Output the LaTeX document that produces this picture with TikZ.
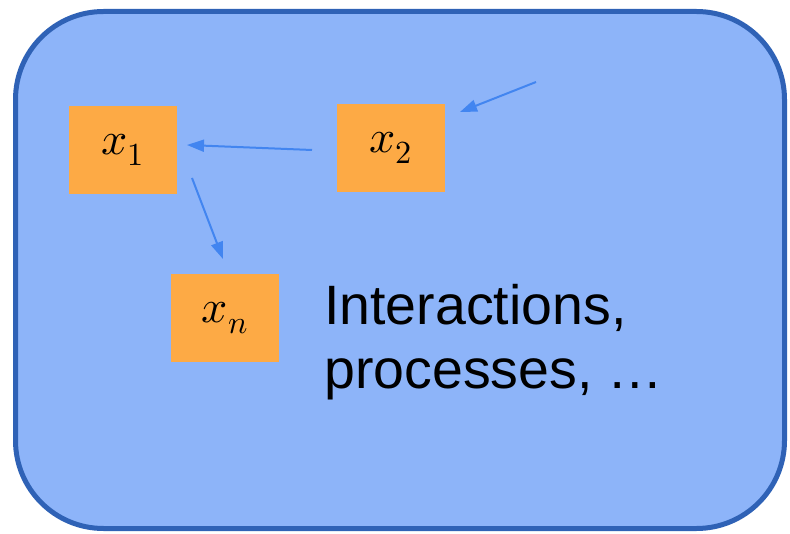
\documentclass[tikz,border=0pt]{standalone}
\usepackage{fontspec}
\usepackage{unicode-math}
\setmainfont{Liberation Sans}
\usetikzlibrary{arrows.meta}
\definecolor{panelfill}{HTML}{8DB4F9}
\definecolor{panelline}{HTML}{2F62B6}
\definecolor{varfill}{HTML}{FDAA45}
\definecolor{linkcol}{HTML}{4285F0}
\tikzset{
  panel/.style={draw=panelline, line width=5pt, fill=panelfill, rounded corners=88pt},
  varbox/.style={fill=varfill, minimum width=108pt, minimum height=88pt, inner sep=0pt,
    font=\fontsize{46}{46}\selectfont},
  link/.style={draw=linkcol, line width=2pt, -{Triangle[length=17pt,width=12pt]}},
  note/.style={align=left, anchor=north west, inner sep=0pt,
    font=\fontsize{55.5}{64}\selectfont}
}
\begin{document}
\begin{tikzpicture}[x=1pt,y=-1pt]
\useasboundingbox (0,0) rectangle (790,534);
\draw[panel] (15.5,11.5) rectangle (784.5,528.5);

\node[varbox] (x1) at (123,150) {$x_1$};
\node[varbox] (x2) at (391,148) {$x_2$};
\node[varbox] (xn) at (225,318) {$x_n$};

\coordinate (in2) at (536,82);
\coordinate (t2) at (460,112);
\coordinate (s1) at (312,150);
\coordinate (t1) at (187,145);
\coordinate (s3) at (192,178);
\coordinate (t3) at (223,259);

\draw[link] (in2) -- (t2);
\draw[link] (s1) -- (t1);
\draw[link] (s3) -- (t3);

\node[note] (txt) at (324,284) {Interactions,\\processes, …};
\end{tikzpicture}
\end{document}
